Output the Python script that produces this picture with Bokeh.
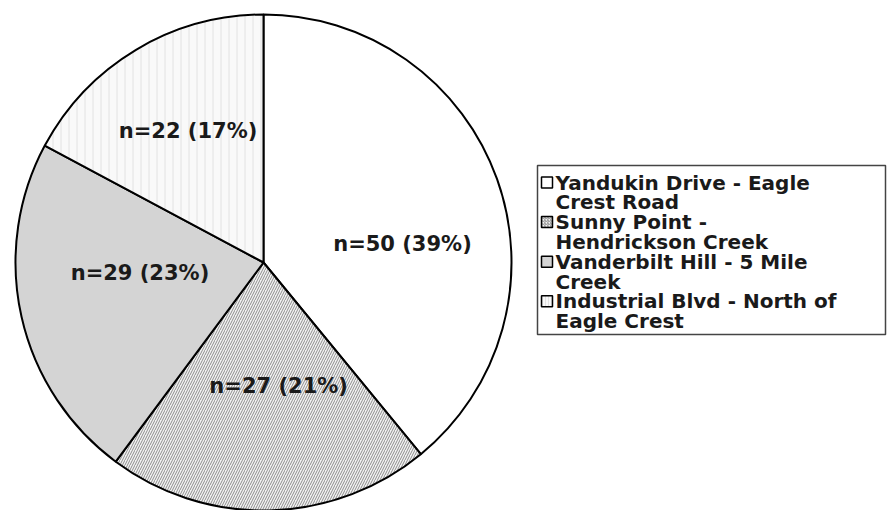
import numpy as np
from bokeh.plotting import figure
from bokeh.models import Range1d
from bokeh.core.properties import value
from bokeh.embed import file_html
from bokeh.resources import INLINE

# ---- data ----
categories = [
    "Yandukin Drive - Eagle Crest Road",
    "Sunny Point - Hendrickson Creek",
    "Vanderbilt Hill - 5 Mile Creek",
    "Industrial Blvd - North of Eagle Crest",
]
legend_labels = [
    "Yandukin Drive - Eagle\nCrest Road",
    "Sunny Point -\nHendrickson Creek",
    "Vanderbilt Hill - 5 Mile\nCreek",
    "Industrial Blvd - North of\nEagle Crest",
]
counts = [50, 27, 29, 22]
percents = [39, 21, 23, 17]

# ---- styles / layout ----
fills = ["#ffffff", "#f3f3f3", "#d4d4d4", "#f9f9f9"]
hatches = [None, "/", None, "|"]
hatch_colors = ["#000000", "#8c8c8c", "#000000", "#e2e2e2"]
hatch_scales = [12, 5, 12, 8]
label_radius_frac = [0.565, 0.50, 0.50, 0.61]
label_angle_shift_deg = [-12.3, 5.6, -7.7, -1.0]

FONT = "DejaVu Sans"
W, H = 887, 510

def sx(x):  # picture x -> data x
    return x

def sy(y):  # picture y -> data y
    return H - y

p = figure(width=W, height=H, x_range=Range1d(0, W), y_range=Range1d(0, H),
           x_axis_type=None, y_axis_type=None, output_backend="svg",
           toolbar_location=None, min_border=0)
p.grid.visible = False
p.outline_line_color = None
p.background_fill_color = "white"
p.border_fill_color = "white"

cx, cy, r = sx(263), sy(262), 248

total = float(sum(counts))
fr = np.array(counts) / total
cum = np.concatenate([[0], np.cumsum(fr)])
start = np.pi / 2 - 2 * np.pi * cum[:-1]
end = np.pi / 2 - 2 * np.pi * cum[1:]

for i in range(len(counts)):
    kw = dict(x=cx, y=cy, radius=r, start_angle=start[i], end_angle=end[i],
              direction="clock", fill_color=fills[i], line_color="black", line_width=2)
    if hatches[i]:
        kw.update(hatch_pattern=hatches[i], hatch_color=hatch_colors[i],
                  hatch_scale=hatch_scales[i], hatch_weight=1)
    p.wedge(**kw)

# slice labels
mid = (start + end) / 2 + np.radians(label_angle_shift_deg)
rr = r * np.array(label_radius_frac)
lx = cx + rr * np.cos(mid)
ly = cy + rr * np.sin(mid)
labels = [f"n={c} ({pc}%)" for c, pc in zip(counts, percents)]
p.text(x=lx, y=ly, text=labels, text_font=value(FONT), text_font_style="bold",
       text_font_size="21px", text_color="#1a1a1a", text_align="center",
       text_baseline="middle")

# legend (manual)
p.quad(left=sx(537), right=sx(885), top=sy(165), bottom=sy(334),
       fill_color="white", line_color="#444444", line_width=1.5)

n = len(categories)
line_h = 19.8
top_line = 182
line_texts, line_x, line_y = [], [], []
k = 0
for i in range(n):
    parts = legend_labels[i].split("\n")
    yc = sy(top_line + k * line_h)
    sw = dict(left=sx(541), right=sx(552), top=yc + 5.5, bottom=yc - 5.5,
              fill_color=fills[i], line_color="black", line_width=1.5)
    if hatches[i]:
        sw.update(hatch_pattern=hatches[i], hatch_color=hatch_colors[i],
                  hatch_scale=3, hatch_weight=1)
    p.quad(**sw)
    for part in parts:
        line_texts.append(part)
        line_x.append(sx(555))
        line_y.append(sy(top_line + k * line_h))
        k += 1

p.text(x=line_x, y=line_y, text=line_texts, text_font=value(FONT),
       text_font_style="bold", text_font_size="20px", text_color="#1a1a1a",
       text_align="left", text_baseline="middle")

open("out.html", "w").write(file_html(p, INLINE))
